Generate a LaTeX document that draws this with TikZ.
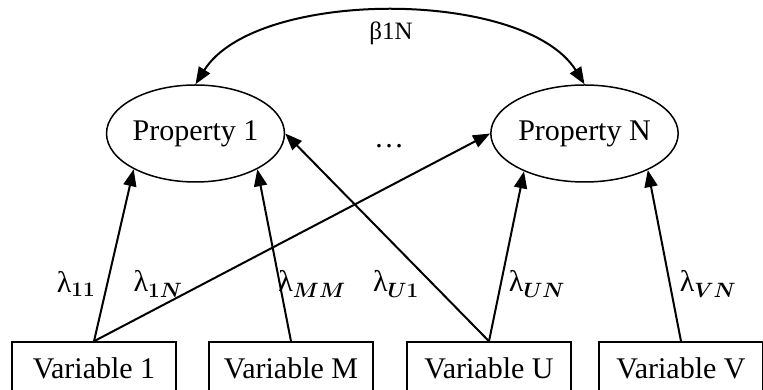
\documentclass[tikz,border=0pt]{standalone}
\usepackage{fontspec}
\setmainfont{Liberation Serif}
\usepackage{amsmath}
\usetikzlibrary{positioning}
\usetikzlibrary{arrows.meta}
\usetikzlibrary{shapes.geometric}

\begin{document}
\begin{tikzpicture}[x = 1pt, y = 1pt, font = \fontsize{30}{36}\selectfont,
		propnode/.style = {ellipse, draw, black, line width = 1.5pt, minimum width = 165pt, minimum height = 97pt, inner sep = 0pt},
		varbox/.style = {rectangle, draw, black, line width = 1.5pt, minimum width = 164pt, minimum height = 52pt, inner sep = 0pt},
		loadarrow/.style = {black, line width = 2pt, -{Triangle[length = 17pt, width = 13pt]}},
		weightlabel/.style = {inner sep = 0pt}]
					\useasboundingbox (0, 0) rectangle (763, 390);
					\clip (0, 0) rectangle (763, 390);
					\node [propnode] (p1) at (195.5, 256.5) {Property 1};
					\node [propnode] (pN) at (584.5, 256.5) {Property N};
					\node (dots) at (389, 244) {\dots};
					\node [varbox] (v1) at (94, 22) {Variable 1};
					\node [varbox] (vM) at (291, 22) {Variable M};
					\node [varbox] (vU) at (489, 22) {Variable U};
					\node [varbox] (vV) at (681, 22) {Variable V};
					\draw [loadarrow, {Triangle[length = 17pt, width = 13pt]}-{Triangle[length = 17pt, width = 13pt]}] (p1.north) .. controls +(60, 96) and +(-60, 96) .. (pN.north);
					\node [weightlabel] (b1N) at (391, 357) {\fontsize{25}{30}\selectfont β1N};
					\draw [loadarrow] (v1.north) -- (p1.210);
					\draw [loadarrow] (v1.north) -- (pN.west);
					\draw [loadarrow] (vM.north) -- (p1.330);
					\draw [loadarrow] (vU.north) -- (p1.east);
					\draw [loadarrow] (vU.north) -- (pN.212);
					\draw [loadarrow] (vV.north) -- (pN.330);
					\node [weightlabel] (l11) at (76, 106) {λ$_{\boldsymbol{11}}$};
					\node [weightlabel] (l1N) at (158, 106) {λ$_{\boldsymbol{1N}}$};
					\node [weightlabel] (lMM) at (312, 106) {λ$_{\boldsymbol{MM}}$};
					\node [weightlabel] (lU1) at (396, 106) {λ$_{\boldsymbol{U1}}$};
					\node [weightlabel] (lUN) at (537, 106) {λ$_{\boldsymbol{UN}}$};
					\node [weightlabel] (lVN) at (708, 106) {λ$_{\boldsymbol{VN}}$};
				\end{tikzpicture}
\end{document}
